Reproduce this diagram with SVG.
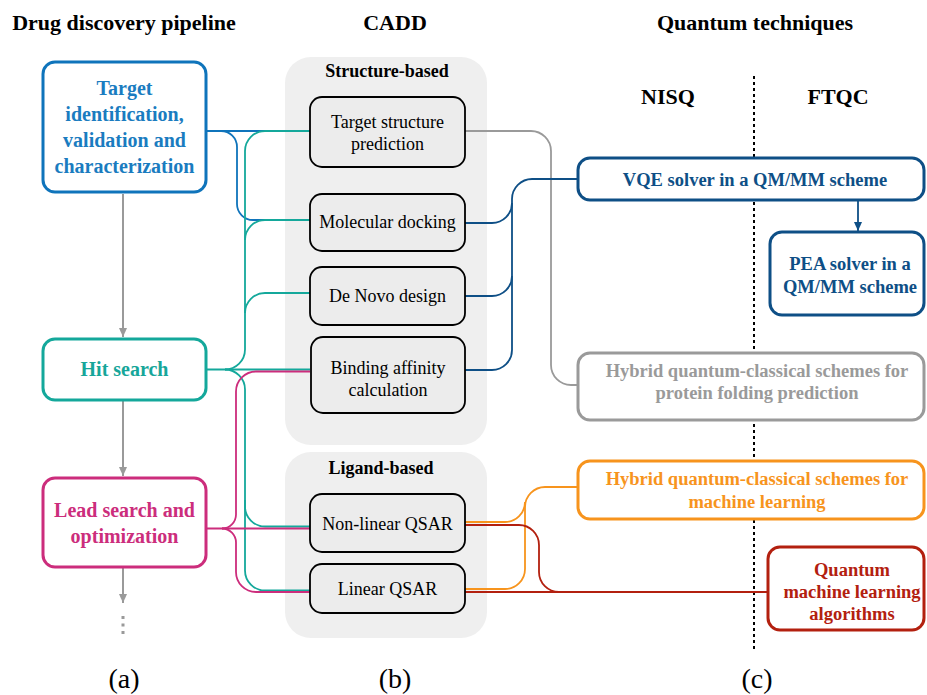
<svg xmlns="http://www.w3.org/2000/svg" width="927" height="695" viewBox="0 0 927 695">
<defs>
<style>
text{font-family:"Liberation Serif","Times New Roman",serif;text-anchor:middle}
.h{font-size:22px;font-weight:bold;fill:#000}
.lab{font-size:28px;fill:#000}
.lb{font-size:20px;font-weight:bold}
.cb{font-size:18px;fill:#000}
.rb{font-size:18.5px;font-weight:bold}
.panel{fill:#efefef;stroke:none}
.inner{fill:#ececec;stroke:#000;stroke-width:1.8}
.big{fill:#fff;stroke-width:3}
.c{fill:none;stroke-width:1.8}
.blue{stroke:#0f74bb}
.teal{stroke:#14a89b}
.mag{stroke:#cc2d7c}
.gray{stroke:#9a9a9a}
.dblue{stroke:#0e4f86}
.orange{stroke:#f7941d}
.red{stroke:#b3200f}
</style>
<marker id="ag" markerWidth="10" markerHeight="10" refX="9" refY="5" orient="auto" markerUnits="userSpaceOnUse"><path d="M0,1 L9,5 L0,9 Z" fill="#9a9a9a"/></marker>
<marker id="ab" markerWidth="10" markerHeight="10" refX="9" refY="5" orient="auto" markerUnits="userSpaceOnUse"><path d="M0,1 L9,5 L0,9 Z" fill="#0e4f86"/></marker>
</defs>
<rect width="927" height="695" fill="#fff"/>

<g id="headers">
<text class="h" x="124" y="30">Drug discovery pipeline</text>
<text class="h" x="395" y="30">CADD</text>
<text class="h" x="755" y="30">Quantum techniques</text>
<text class="h" x="668" y="104">NISQ</text>
<text class="h" x="838" y="104">FTQC</text>
<text class="lab" x="124" y="688">(a)</text>
<text class="lab" x="395" y="688">(b)</text>
<text class="lab" x="757" y="688">(c)</text>
</g>

<g id="divider">
<line x1="754" y1="76" x2="754" y2="650" stroke="#000" stroke-width="2" stroke-dasharray="3,3"/>
</g>

<g id="panel-structure">
<rect class="panel" x="285" y="57" width="202" height="388" rx="26"/>
<text x="387" y="77" style="font-size:18px;font-weight:bold">Structure-based</text>
</g>
<g id="panel-ligand">
<rect class="panel" x="285" y="452" width="202" height="186" rx="26"/>
<text x="381" y="474" style="font-size:18px;font-weight:bold">Ligand-based</text>
</g>

<g id="pipeline-arrows">
<line x1="123" y1="194" x2="123" y2="337" stroke="#9a9a9a" stroke-width="2" marker-end="url(#ag)"/>
<line x1="123" y1="401" x2="123" y2="476" stroke="#9a9a9a" stroke-width="2" marker-end="url(#ag)"/>
<line x1="123" y1="568" x2="123" y2="603" stroke="#9a9a9a" stroke-width="2" marker-end="url(#ag)"/>
<rect x="121.5" y="616" width="3" height="3" fill="#9a9a9a"/>
<rect x="121.5" y="623.5" width="3" height="3" fill="#9a9a9a"/>
<rect x="121.5" y="631" width="3" height="3" fill="#9a9a9a"/>
</g>

<g id="connectors">
<path class="c blue" d="M207,131 H310"/>
<path class="c blue" d="M207,131 H221 A16,16 0 0 1 237,147 V204 A16,16 0 0 0 253,220 H310"/>

<path class="c teal" d="M207,369.5 H310"/>
<path class="c teal" d="M225,369.5 A20,20 0 0 0 245,349.5 V151 A20,20 0 0 1 265,131 H310"/>
<path class="c teal" d="M245,240 A20,20 0 0 1 265,220 H310"/>
<path class="c teal" d="M245,313 A20,20 0 0 1 265,293 H310"/>
<path class="c teal" d="M225,369.5 A20,20 0 0 1 245,389.5 V506.5 A20,20 0 0 0 265,526.5 H310"/>
<path class="c teal" d="M245,500 V570.5 A20,20 0 0 0 265,590.5 H310"/>

<path class="c mag" d="M207,528.5 H310"/>
<path class="c mag" d="M222,528.5 A14,14 0 0 0 236,514.5 V391.5 A20,20 0 0 1 256,371.5 H310"/>
<path class="c mag" d="M222,528.5 A14,14 0 0 1 236,542.5 V572 A20,20 0 0 0 256,592 H310"/>

<path class="c gray" d="M465,131 H531 A20,20 0 0 1 551,151 V365 A20,20 0 0 0 571,385 H578"/>

<path class="c dblue" d="M578,179 H532 A20,20 0 0 0 512,199 V350 A20,20 0 0 1 492,370 H465"/>
<path class="c dblue" d="M465,223 H492 A20,20 0 0 0 512,203"/>
<path class="c dblue" d="M465,296 H492 A20,20 0 0 0 512,276"/>
<line x1="858" y1="200" x2="858" y2="231" stroke="#0e4f86" stroke-width="1.8" marker-end="url(#ab)"/>

<path class="c orange" d="M578,487 H545 A20,20 0 0 0 525,507 V569 A20,20 0 0 1 505,589 H465"/>
<path class="c orange" d="M465,522 H505 A20,20 0 0 0 525,502"/>

<path class="c red" d="M465,525 H519 A20,20 0 0 1 539,545 V572 A20,20 0 0 0 559,592 H768"/>
<path class="c red" d="M465,592 H768"/>
</g>

<g id="target-identification">
<rect class="big" x="43" y="62" width="163" height="130" rx="12" stroke="#0f74bb"/>
<text class="lb" fill="#1a7cc0" x="124.5" y="95">Target</text>
<text class="lb" fill="#1a7cc0" x="124.5" y="121">identification,</text>
<text class="lb" fill="#1a7cc0" x="124.5" y="147">validation and</text>
<text class="lb" fill="#1a7cc0" x="124.5" y="173">characterization</text>
</g>
<g id="hit-search">
<rect class="big" x="43" y="339" width="163" height="61" rx="12" stroke="#14a89b"/>
<text class="lb" fill="#17a69a" x="124.5" y="376">Hit search</text>
</g>
<g id="lead-search">
<rect class="big" x="43" y="478" width="163" height="89" rx="12" stroke="#cc2d7c"/>
<text class="lb" fill="#cc2d7c" x="124.5" y="517">Lead search and</text>
<text class="lb" fill="#cc2d7c" x="124.5" y="543">optimization</text>
</g>

<g id="target-structure">
<rect class="inner" x="310" y="97" width="155" height="70" rx="12"/>
<text class="cb" x="387.5" y="128">Target structure</text>
<text class="cb" x="387.5" y="150">prediction</text>
</g>
<g id="molecular-docking">
<rect class="inner" x="310" y="194" width="155" height="57" rx="12"/>
<text class="cb" x="387.5" y="228">Molecular docking</text>
</g>
<g id="de-novo">
<rect class="inner" x="310" y="267" width="155" height="58" rx="12"/>
<text class="cb" x="387.5" y="302">De Novo design</text>
</g>
<g id="binding-affinity">
<rect class="inner" x="311" y="337" width="154" height="76" rx="12"/>
<text class="cb" x="388" y="374">Binding affinity</text>
<text class="cb" x="388" y="396">calculation</text>
</g>
<g id="nonlinear-qsar">
<rect class="inner" x="310" y="494" width="155" height="58" rx="12"/>
<text class="cb" x="387.5" y="530">Non-linear QSAR</text>
</g>
<g id="linear-qsar">
<rect class="inner" x="310" y="564" width="155" height="49" rx="12"/>
<text class="cb" x="387.5" y="595">Linear QSAR</text>
</g>

<g id="vqe">
<rect class="big" x="578" y="158" width="346" height="42" rx="12" stroke="#0e4f86"/>
<text class="rb" fill="#0e4f86" x="755" y="186">VQE solver in a QM/MM scheme</text>
</g>
<g id="pea">
<rect class="big" x="770" y="232" width="154" height="83" rx="12" stroke="#0e4f86"/>
<text class="rb" fill="#0e4f86" x="850" y="270">PEA solver in a</text>
<text class="rb" fill="#0e4f86" x="850" y="293">QM/MM scheme</text>
</g>
<g id="hybrid-protein">
<rect class="big" x="578" y="353" width="346" height="67" rx="12" stroke="#9a9a9a"/>
<text class="rb" fill="#9a9a9a" x="757" y="377">Hybrid quantum-classical schemes for</text>
<text class="rb" fill="#9a9a9a" x="757" y="399">protein folding prediction</text>
</g>
<g id="hybrid-ml">
<rect class="big" x="578" y="461" width="346" height="58" rx="12" stroke="#f7941d"/>
<text class="rb" fill="#f7941d" x="757" y="485">Hybrid quantum-classical schemes for</text>
<text class="rb" fill="#f7941d" x="757" y="508">machine learning</text>
</g>
<g id="qml">
<rect class="big" x="768" y="547" width="156" height="83" rx="12" stroke="#b3200f"/>
<text class="rb" fill="#b3200f" x="852" y="576">Quantum</text>
<text class="rb" fill="#b3200f" x="852" y="598">machine learning</text>
<text class="rb" fill="#b3200f" x="852" y="620">algorithms</text>
</g>
</svg>
